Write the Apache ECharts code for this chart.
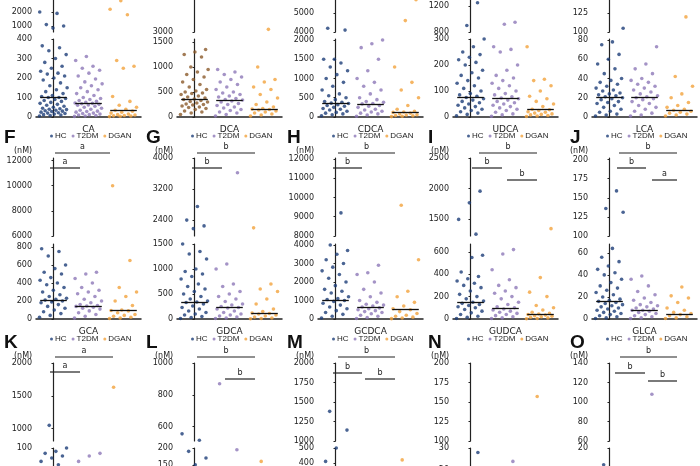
<!DOCTYPE html>
<html><head><meta charset="utf-8">
<script src="https://cdn.jsdelivr.net/npm/echarts@6/dist/echarts.min.js"></script>
<style>html,body{margin:0;background:#fff;overflow:hidden}#container{width:700px;height:620px;margin-top:-40px}</style>
</head><body><div id="container"></div>
<script>
// groups
const groups = ['HC', 'T2DM', 'DGAN'];

// row 1
const CA_HC = [5,8,10,12,15,18,20,22,25,28,30,32,35,38,40,42,45,50,55,60,65,70,75,80,85,90,95,100,100,105,110,120,130,140,150,160,175,190,200,210,220,225,235,250,260,280,300,320,340,355,365,850,1000,1100,1900,2000];
const CA_T2DM = [3,5,8,10,12,15,18,20,25,28,30,35,40,45,50,55,60,62,65,68,70,72,75,80,85,90,95,100,110,120,130,140,150,160,170,180,195,210,225,240,250,260,290,310];
const CA_DGAN = [2,4,5,6,8,10,12,15,20,25,30,35,40,50,60,80,105,250,260,290,1800,2200,2800];
const CA_MED = [100, 70, 37];

const DCA_HC = [50,80,100,120,150,170,190,200,220,240,250,260,280,300,310,330,350,360,380,400,420,450,470,480,500,520,550,600,650,700,750,800,850,900,950,1000,1200,1250,1300,1350];
const DCA_T2DM = [20,50,80,100,130,150,180,200,230,250,270,300,320,340,350,370,400,420,450,480,500,550,600,650,700,750,800,850,900,950];
const DCA_DGAN = [20,40,60,80,100,120,140,150,160,170,200,250,300,380,450,550,600,700,750,1000,3080];
const DCA_MED = [355, 340, 160];

const CDCA_HC = [30,60,80,100,120,150,180,200,220,250,280,300,320,350,360,380,400,450,500,550,600,700,800,900,1000,1100,1200,1300,1400,1500,1500,4100,4200];
const CDCA_T2DM = [20,50,80,100,130,150,180,200,250,280,300,340,350,380,400,450,500,600,700,800,900,1000,1200,1500,1800,1900,2000];
const CDCA_DGAN = [10,20,30,40,50,60,80,100,120,130,150,200,300,500,700,900,1300,4600,5700];
const CDCA_MED = [350, 340, 130];

const UDCA_HC = [5,10,15,20,25,30,35,40,45,50,55,60,65,70,75,80,85,90,100,110,120,130,140,150,160,170,180,200,210,220,230,240,250,270,300,900,1250];
const UDCA_T2DM = [3,8,12,18,25,30,35,40,45,50,55,60,65,70,73,78,85,90,100,110,120,130,140,150,160,180,200,250,260,270,920,950];
const UDCA_DGAN = [2,4,6,8,10,12,15,18,20,25,28,30,40,50,60,70,80,100,120,140,145,270];
const UDCA_MED = [75, 73, 28];

const LCA_HC = [1,2,3,5,6,8,10,12,14,15,16,18,19,20,21,22,23,24,25,27,28,30,32,34,36,38,40,45,50,55,60,65,75,78,105];
const LCA_T2DM = [1,2,4,6,8,10,12,14,16,18,19,20,21,22,24,26,28,30,32,34,36,38,40,45,50,55,73];
const LCA_DGAN = [1,2,3,4,5,6,7,8,10,12,15,20,24,32,42,120];
const LCA_MED = [21, 20, 7];

// row 2
const GCA_HC = [20,40,60,80,100,120,140,160,180,190,200,210,220,230,250,270,300,320,350,380,400,430,460,500,520,560,600,700,750,780];
const GCA_T2DM = [10,30,50,70,90,110,120,130,140,145,150,160,180,200,220,250,280,300,320,350,400,450,500,520];
const GCA_DGAN = [5,10,20,30,40,50,70,90,95,100,150,200,250,300,350,650,10000];
const GCA_MED = [210, 145, 95];

const GDCA_HC = [10,30,50,80,100,130,160,200,230,260,300,330,340,360,400,450,500,550,600,650,700,800,850,900,950,1000,1200,1300,1350,1500,2180,2250,2400,2750];
const GDCA_T2DM = [10,20,40,60,80,100,130,160,200,220,230,250,280,300,350,400,450,500,550,650,700,1000,1100,3620];
const GDCA_DGAN = [5,10,20,40,60,80,100,110,120,150,200,300,400,550,600,700,2200];
const GDCA_MED = [340, 230, 110];

const GCDCA_HC = [50,150,250,350,450,550,650,750,850,950,1000,1050,1100,1200,1400,1500,1600,1800,2000,2200,2400,2600,2800,3000,3200,3500,3700,4000,9200];
const GCDCA_T2DM = [30,80,150,200,280,350,400,450,500,550,600,650,700,750,800,900,1000,1200,1400,1600,2000,2400,2500,2900];
const GCDCA_DGAN = [20,50,100,150,200,300,400,500,550,700,900,1200,1500,3200,9600];
const GCDCA_MED = [1000, 650, 500];

const GUDCA_HC = [5,15,25,40,55,70,85,100,110,120,130,140,150,160,180,200,220,250,280,300,320,340,360,380,420,550,570,690,1260,1500,1770,1960];
const GUDCA_T2DM = [5,10,20,30,40,50,60,70,80,90,100,110,130,150,180,200,230,250,280,300,350,440,580,620];
const GUDCA_DGAN = [2,5,10,15,20,25,30,35,40,45,50,60,80,100,120,200,240,370,1350];
const GUDCA_MED = [150, 100, 45];

const GLCA_HC = [0.5,1,2,3,4,5,6,7,8,9,10,11,12,13,14,15,16,17,18,20,22,24,26,28,30,33,36,40,42,45,48,52,56,64,131,136,159];
const GLCA_T2DM = [0.5,1,2,3,4,5,6,7,8,8,9,10,11,12,13,15,17,19,22,25,30,36,39];
const GLCA_DGAN = [0.5,1,2,3,4,5,6,8,10,15,19,21,29];
const GLCA_MED = [16, 8, 4];

// row 3
const K_HC = [1050,100,95,92,88,85,80,75,70,60,50,40,30,20,10];
const K_T2DM = [92,88,80,60,40,20];
const K_DGAN = [1630,105,50,20];
const K_MED = [40, 30, 20];
const L_HC = [555,515,190,170,150,120,100,60,30];
const L_T2DM = [870,195,100,50];
const L_DGAN = [160,60];
const L_MED = [100, 80, 60];
const M_HC = [1380,1140,500,410,300,200,100];
const M_T2DM = [200,100];
const M_DGAN = [420,100];
const M_MED = [200, 150, 100];
const N_HC = [28,20,10];
const N_T2DM = [24,15,8];
const N_DGAN = [157,10];
const N_MED = [10, 8, 5];
const O_HC = [15,14,13,12,10,8,5];
const O_T2DM = [108,14,8];
const O_DGAN = [5,3];
const O_MED = [10, 8, 4];

const OFF = 40; // canvas is shifted up by this much so the cut-off top rows can be drawn
const rows = [
  {upTop: -30, upBot: 32, loTop: 39, loBot: 117, leg: 132},
  {upTop: 158, upBot: 236, loTop: 244, loBot: 319, leg: 335},
  {upTop: 363, upBot: 441, loTop: 448, loBot: 515, leg: 540}
];
const colLeft = [36, 177, 318, 453, 592];
const W = 105;

const panels = [
  {n:'CA', r:0,c:0, d:[CA_HC,CA_T2DM,CA_DGAN], m:CA_MED, up:[571,5000,[1000,2000,3000,4000]], lo:[0,400,[0,100,200,300,400]]},
  {n:'DCA', r:0,c:1, d:[DCA_HC,DCA_T2DM,DCA_DGAN], m:DCA_MED, up:[3000,4860,[3000,4500]], lo:[0,1560,[0,500,1000,1500]], brown:true},
  {n:'CDCA', r:0,c:2, d:[CDCA_HC,CDCA_T2DM,CDCA_DGAN], m:CDCA_MED, up:[4000,7260,[4000,5000,6000]], lo:[0,2025,[0,500,1000,1500,2000]]},
  {n:'UDCA', r:0,c:3, d:[UDCA_HC,UDCA_T2DM,UDCA_DGAN], m:UDCA_MED, up:[800,1754,[800,1200,1600]], lo:[0,300,[0,100,200,300]]},
  {n:'LCA', r:0,c:4, d:[LCA_HC,LCA_T2DM,LCA_DGAN], m:LCA_MED, up:[100,182,[100,125,150,175]], lo:[0,81,[0,20,40,60,80]]},
  {n:'GCA', r:1,c:0, d:[GCA_HC,GCA_T2DM,GCA_DGAN], m:GCA_MED, up:[6000,12200,[6000,8000,10000,12000]], lo:[0,833,[0,200,400,600,800]]},
  {n:'GDCA', r:1,c:1, d:[GDCA_HC,GDCA_T2DM,GDCA_DGAN], m:GDCA_MED, up:[1990,4000,[2400,3200,4000]], lo:[0,1500,[0,500,1000,1500]]},
  {n:'GCDCA', r:1,c:2, d:[GCDCA_HC,GCDCA_T2DM,GCDCA_DGAN], m:GCDCA_MED, up:[8000,12050,[8000,9000,10000,11000,12000]], lo:[0,4050,[0,1000,2000,3000,4000]]},
  {n:'GUDCA', r:1,c:3, d:[GUDCA_HC,GUDCA_T2DM,GUDCA_DGAN], m:GUDCA_MED, up:[1230,2500,[1500,2000,2500]], lo:[0,670,[0,200,400,600]]},
  {n:'GLCA', r:1,c:4, d:[GLCA_HC,GLCA_T2DM,GLCA_DGAN], m:GLCA_MED, up:[100,202,[100,125,150,175,200]], lo:[0,68,[0,20,40,60]]},
  {n:'', r:2,c:0, d:[K_HC,K_T2DM,K_DGAN], m:K_MED, up:[812,2000,[1000,1500,2000]], lo:[0,100,[50,100]]},
  {n:'', r:2,c:1, d:[L_HC,L_T2DM,L_DGAN], m:L_MED, up:[510,1000,[600,800,1000]], lo:[0,200,[50,100,150,200]]},
  {n:'', r:2,c:2, d:[M_HC,M_T2DM,M_DGAN], m:M_MED, up:[1000,2000,[1000,1250,1500,1750,2000]], lo:[50,500,[100,200,300,400,500]]},
  {n:'', r:2,c:3, d:[N_HC,N_T2DM,N_DGAN], m:N_MED, up:[100,200,[100,125,150,175,200]], lo:[0,30,[10,20,30]]},
  {n:'', r:2,c:4, d:[O_HC,O_T2DM,O_DGAN], m:O_MED, up:[60,140,[60,80,100,120,140]], lo:[0,20,[10,20]]}
];

const colors = {HC: '#1d3d78', T2DM: '#8d78b8', DGAN: '#f2a23c'};
const FONT = 'DejaVu Sans';

function swarm(vals, g) {
  const s = vals.slice().sort((a, b) => a - b);
  return s.map((v, i) => [g + (((i * 0.381966) % 1) - 0.5) * 0.8, v]);
}

const grid = [], xAxis = [], yAxis = [], series = [], legend = [], graphic = [];

panels.forEach(p => {
  const R = rows[p.r], L = colLeft[p.c];
  [['up', R.upTop, R.upBot], ['lo', R.loTop, R.loBot]].forEach(([k, t, b]) => {
    const gi = grid.length;
    grid.push({left: L, top: t + OFF, width: W, height: b - t});
    const lower = k === 'lo';
    xAxis.push({gridIndex: gi, type: 'value', min: -0.5, max: 2.5, show: lower,
      axisLine: {lineStyle: {color: '#222', width: 1.5}}, axisTick: {show: false}, axisLabel: {show: false},
      splitLine: {show: false}, name: lower ? p.n : '', nameLocation: 'middle', nameGap: 8,
      nameTextStyle: {fontFamily: FONT, fontSize: 9, color: '#222'}});
    const [mn, mx, ticks] = p[k];
    yAxis.push({gridIndex: gi, type: 'value', min: mn, max: mx, splitLine: {show: false},
      axisLine: {show: true, lineStyle: {color: '#222', width: 1.2}},
      axisTick: {show: true, length: 2, customValues: ticks, lineStyle: {color: '#222'}},
      axisLabel: {customValues: ticks, formatter: v => String(v), fontFamily: FONT, fontSize: 8, color: '#222', margin: 4}});
    groups.forEach((gname, g) => {
      const col = (p.brown && g === 0) ? '#8b5a2b' : colors[gname];
      const ser = {type: 'scatter', name: gname, xAxisIndex: gi, yAxisIndex: gi,
        data: swarm(p.d[g], g), symbolSize: 3.6, itemStyle: {color: col}, clip: true, silent: true};
      if (lower) ser.markLine = {symbol: 'none', silent: true, label: {show: false},
        lineStyle: {color: '#111', width: 1.3, type: 'solid'},
        data: [[{coord: [g - 0.38, p.m[g]]}, {coord: [g + 0.38, p.m[g]]}]]};
      series.push(ser);
    });
  });
  if (p.r < 2) legend.push({data: groups, left: L + 14, top: R.leg + OFF, icon: 'circle', itemWidth: 3, itemHeight: 3,
    itemGap: 5, selectedMode: false, padding: 0,
    textStyle: {fontFamily: 'Liberation Sans', fontSize: 8, color: '#222', padding: [0, 0, 0, -3]}});
  if (p.r > 0) graphic.push({type: 'text', left: L - 22, top: R.upTop - 11 + OFF,
    style: {text: '(nM)', font: '8px ' + FONT, fill: '#222'}});
});

// panel letters
const letters = [['F',4,128],['G',146,128],['H',287,128],['I',428,128],['J',570,128],
                 ['K',4,333],['L',146,333],['M',287,333],['N',428,333],['O',570,333]];
letters.forEach(([t, x, y]) => graphic.push({type: 'text', left: x, top: y + OFF,
  style: {text: t, font: 'bold 19px Liberation Sans', fill: '#111'}}));

// significance bars: [x1, x2, y, letter]
const sig = [
  [55,110,153,'a'],[50,80,168,'a'],
  [197,255,153,'b'],[192,222,168,'b'],
  [338,395,153,'b'],[333,362,168,'b'],
  [479,537,153,'b'],[472,502,168,'b'],[507,537,180,'b'],
  [619,677,153,'b'],[617,646,168,'b'],[652,677,180,'a'],
  [55,113,357,'a'],[50,80,372,'a'],
  [197,255,357,'b'],[225,255,379,'b'],
  [338,395,357,'b'],[333,362,373,'b'],[365,395,379,'b'],
  [620,677,357,'b'],[615,645,373,'b'],[648,677,381,'b']
];
sig.forEach(([x1, x2, y, t]) => {
  graphic.push({type: 'line', shape: {x1, y1: y + OFF, x2, y2: y + OFF}, style: {stroke: '#222', lineWidth: 1.2}});
  graphic.push({type: 'text', x: (x1 + x2) / 2, y: y - 2 + OFF,
    style: {text: t, font: '8px ' + FONT, fill: '#222', textAlign: 'center', textVerticalAlign: 'bottom'}});
});

const myChart = echarts.init(document.getElementById('container'));
myChart.setOption({animation: false, grid, xAxis, yAxis, series, legend, graphic});
</script></body></html>
